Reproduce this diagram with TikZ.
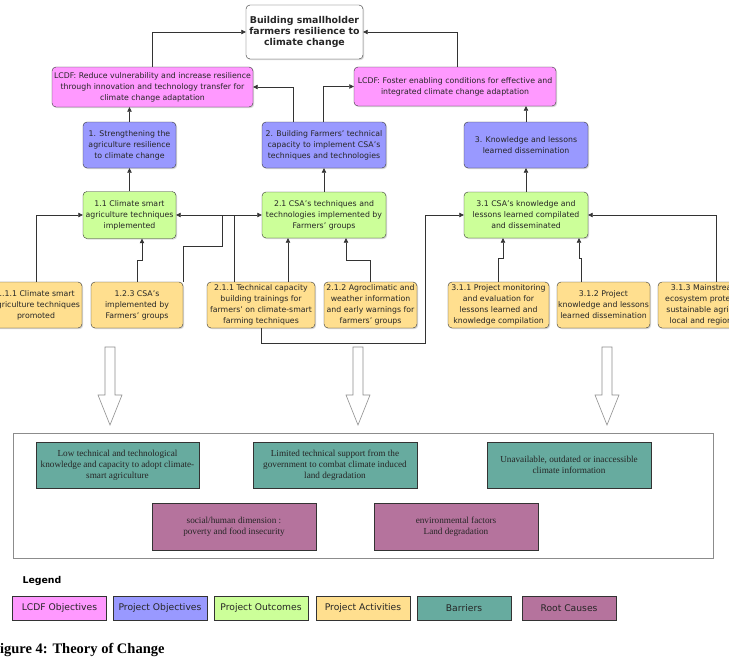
\documentclass[tikz,border=0pt]{standalone}
\usepackage{fontspec}
\setmainfont{DejaVu Sans}
\newfontfamily\tnr{Liberation Serif}
\usetikzlibrary{arrows.meta,shadows}

\definecolor{lcdfpink}{HTML}{FF99FF}
\definecolor{objblue}{HTML}{9999FF}
\definecolor{outgreen}{HTML}{CCFF99}
\definecolor{actyellow}{HTML}{FFDF8F}
\definecolor{barteal}{HTML}{67AB9F}
\definecolor{causemauve}{HTML}{B5739D}

\tikzset{
  box/.style={draw=black!80, rounded corners=4pt, align=center, inner sep=1pt, text=black!85,
    font=\fontsize{7.8}{11}\selectfont,
    drop shadow={shadow xshift=1.2pt, shadow yshift=-1.2pt, opacity=0.3}},
  sz/.style 2 args={minimum width=#1pt, minimum height=#2pt},
  lcdf/.style={box, fill=lcdfpink},
  obj/.style={box, fill=objblue},
  outc/.style={box, fill=outgreen},
  act/.style={box, fill=actyellow},
  barrier/.style={draw=black!80, fill=barteal, align=center, inner sep=1pt, text=black!85,
    font=\tnr\fontsize{9.2}{11}\selectfont},
  cause/.style={barrier, fill=causemauve},
  legbox/.style={draw=black!80, minimum width=94pt, minimum height=24pt, inner sep=1pt,
    text=black!85, font=\fontsize{9.2}{10}\selectfont},
  link/.style={draw=black!80, line width=0.6pt, -{Triangle[length=4.5pt,width=4.5pt]}},
  dlink/.style={link, {Triangle[length=4.5pt,width=4.5pt]}-{Triangle[length=4.5pt,width=4.5pt]}},
}

\begin{document}
\begin{tikzpicture}[x=1pt, y=-1pt]
\clip (0,0) rectangle (729,657);

% goal and LCDF objectives
\node[box, fill=white, sz={117}{54}, font=\bfseries\fontsize{9.4}{11}\selectfont] (goal) at (304.5,32) {Building smallholder\\farmers resilience to\\climate change};
\node[lcdf, sz={201}{40}] (lcdf1) at (152.5,87) {LCDF: Reduce vulnerability and increase resilience\\through innovation and technology transfer for\\climate change adaptation};
\node[lcdf, sz={202}{39}] (lcdf2) at (455,86.5) {LCDF: Foster enabling conditions for effective and\\integrated climate change adaptation};

% project objectives
\node[obj, sz={93}{46}] (obj1) at (129.5,145) {1. Strengthening the\\agriculture resilience\\to climate change};
\node[obj, sz={124}{46}] (obj2) at (324,145) {2. Building Farmers’ technical\\capacity to implement CSA’s\\techniques and technologies};
\node[obj, sz={124}{46}] (obj3) at (526,145) {3. Knowledge and lessons\\learned dissemination};

% outcomes
\node[outc, sz={93}{47}] (out11) at (129.5,215) {1.1 Climate smart\\agriculture techniques\\implemented};
\node[outc, sz={124}{46}] (out21) at (324,215) {2.1 CSA’s techniques and\\technologies implemented by\\Farmers’ groups};
\node[outc, sz={124}{46}] (out31) at (526,215) {3.1 CSA’s knowledge and\\lessons learned compilated\\and disseminated};

% activities
\node[act, sz={92}{46}] (a111) at (36,305) {1.1.1 Climate smart\\agriculture techniques\\promoted};
\node[act, sz={92}{46}] (a123) at (137,305) {1.2.3 CSA’s\\implemented by\\Farmers’ groups};
\node[act, sz={108}{46}] (a211) at (261,305) {2.1.1 Technical capacity\\building trainings for\\farmers’ on climate-smart\\farming techniques};
\node[act, sz={93}{46}] (a212) at (370.5,305) {2.1.2 Agroclimatic and\\weather information\\and early warnings for\\farmers’ groups};
\node[act, sz={101}{46}] (a311) at (498.5,305) {3.1.1 Project monitoring\\and evaluation for\\lessons learned and\\knowledge compilation};
\node[act, sz={93}{46}] (a312) at (603.5,305) {3.1.2 Project\\knowledge and lessons\\learned dissemination};
\node[act, sz={116}{46}] (a313) at (716,305) {3.1.3 Mainstreaming of\\ecosystem protection and\\sustainable agriculture in\\local and regional plans};

% links to the goal
\draw[link] (lcdf1.north) |- (goal.west);
\draw[link] ([xshift=2pt]lcdf2.north) |- (goal.east);
\draw[link] ([xshift=-31pt]obj2.north) |- (lcdf1.east);
\draw[link] ([xshift=-1pt]obj2.north) |- (lcdf2.west);
\draw[link] (obj1.north) -- (obj1.north |- lcdf1.south);
\draw[link] (obj3.north) -- (obj3.north |- lcdf2.south);
\draw[link] (out11.north) -- (obj1.south);
\draw[link] (out21.north) -- (obj2.south);
\draw[link] (out31.north) -- (obj3.south);

% activities to outcomes
\coordinate (j1) at (222,246);
\coordinate (k1) at (425,343);
\draw[link] (a111.north) |- (out11.west);
\draw[link] (a123.north) -- ++(0,-22) -| ([xshift=12.5pt]out11.south);
\draw[dlink] (out11.east) -- (out21.west);
\draw[link, -] (a123.north east) |- (j1) -- (j1 |- out11.east);
\draw[link, -] ([xshift=-27pt]a211.north) -- ([xshift=-27pt]a211.north |- out11.east);
\draw[link] ([xshift=27pt]a211.north) -- ([xshift=27pt]a211.north |- out21.south);
\draw[link] (a211.south) |- (k1) |- (out31.west);
\draw[link] (a212.north) -- ++(0,-22) -| ([xshift=22pt]out21.south);
\draw[link] (a311.north) -- ++(0,-24) -| ([xshift=-23pt]out31.south);
\draw[link] ([xshift=-22.5pt]a312.north) -- ++(0,-24) -| ([xshift=53pt]out31.south);
\draw[link] (a313.north) |- (out31.east);

% hollow arrows down to the barriers
\foreach \x in {110,358,607}
  \draw[gray!90, line width=0.6pt] (\x-5,347) -- (\x+5,347) -- (\x+5,395) -- (\x+12,395)
    -- (\x,425) -- (\x-12,395) -- (\x-5,395) -- cycle;

% barriers and root causes
\draw[gray!90, line width=0.7pt] (13,433) rectangle (713,558);
\node[barrier, sz={163}{46}] (bar1) at (117.5,465) {Low technical and technological\\knowledge and capacity to adopt climate-\\smart agriculture};
\node[barrier, sz={164}{46}] (bar2) at (335,465) {Limited technical support from the\\government to combat climate induced\\land degradation};
\node[barrier, sz={164}{46}] (bar3) at (569,465) {Unavailable, outdated or inaccessible\\climate information};
\node[cause, sz={164}{47}] (root1) at (234,526.5) {social/human dimension :\\poverty and food insecurity};
\node[cause, sz={164}{47}] (root2) at (456,526.5) {environmental factors\\Land degradation};

% legend
\node[anchor=west, font=\bfseries\fontsize{9.4}{10}\selectfont] (legtitle) at (19,581) {Legend};
\node[legbox, fill=lcdfpink] (legA) at (59.5,608) {LCDF Objectives};
\node[legbox, fill=objblue] (legB) at (160,608) {Project Objectives};
\node[legbox, fill=outgreen] (legC) at (261,608) {Project Outcomes};
\node[legbox, fill=actyellow] (legD) at (363,608) {Project Activities};
\node[legbox, fill=barteal] (legE) at (464,608) {Barriers};
\node[legbox, fill=causemauve] (legF) at (569,608) {Root Causes};

\node[anchor=base west, inner sep=0pt, font=\tnr\bfseries\fontsize{14.5}{16}\selectfont] (caption) at (-9,653) {Figure 4: Theory of Change};
\end{tikzpicture}
\end{document}
